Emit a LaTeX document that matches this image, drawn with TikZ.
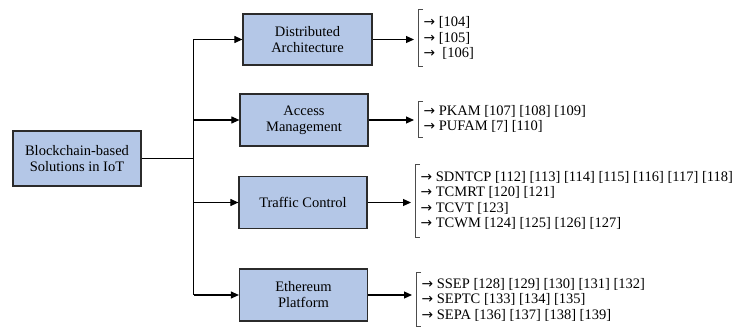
\documentclass[tikz,border=0pt]{standalone}
\usepackage{fontspec}
\setmainfont{Liberation Serif}
\newfontfamily\arrowfont[Scale=0.95]{DejaVu Sans}
\newcommand{\leafarrow}{{\arrowfont →}}
\usetikzlibrary{positioning, arrows.meta}
\definecolor{boxblue}{HTML}{B4C7E7}
\definecolor{boxline}{HTML}{2B2B2B}

\begin{document}
\begin{tikzpicture}[x=1pt, y=-1pt,
    box/.style={draw=boxline, line width=1.2pt, fill=boxblue, align=center,
        minimum width=128pt, minimum height=52pt, inner sep=2pt,
        font=\fontsize{14.5}{16}\selectfont},
    leaflist/.style={anchor=west, align=left, inner xsep=5.5pt, inner ysep=4pt,
        font=\fontsize{14.5}{15.5}\selectfont},
    link/.style={line width=1.1pt, -{Triangle[length=8pt,width=7pt]}},
    bracket/.style={draw=black!70, line width=0.8pt}]
    \useasboundingbox (0,0) rectangle (745,329);

    \node[box, minimum height=55pt] (root) at (77,158.5) {Blockchain-based\\Solutions in IoT};

    \node[box, minimum width=129pt, minimum height=51pt] (dist) at (307.5,39.5) {Distributed\\Architecture};
    \node[box] (acc) at (304,120) {Access\\Management};
    \node[box] (traf) at (303,202.5) {Traffic Control};
    \node[box] (eth) at (303.5,295) {Ethereum\\Platform};

    \node[leaflist, inner ysep=6.5pt] (l1) at (418,38) {\leafarrow{} [104]\\\leafarrow{} [105]\\\leafarrow\ \ [106]};
    \node[leaflist] (l2) at (418,119) {\leafarrow{} PKAM [107] [108] [109]\\\leafarrow{} PUFAM [7] [110]};
    \node[leaflist, inner ysep=7pt] (l3) at (415,200.5) {\leafarrow{} SDNTCP [112] [113] [114] [115] [116] [117] [118]\\\leafarrow{} TCMRT [120] [121]\\\leafarrow{} TCVT [123]\\\leafarrow{} TCWM [124] [125] [126] [127]};
    \node[leaflist, inner ysep=5pt] (l4) at (416,299.5) {\leafarrow{} SSEP [128] [129] [130] [131] [132]\\\leafarrow{} SEPTC [133] [134] [135]\\\leafarrow{} SEPA [136] [137] [138] [139]};

    \foreach \l in {l1,l2,l3,l4}
        \draw[bracket] ([xshift=5pt]\l.north west) -- (\l.north west) -- (\l.south west) -- ([xshift=5pt]\l.south west);

    \draw[line width=1.1pt] (root.east) -- ++(52,0) coordinate (hub);
    \draw[line width=1.1pt] (hub |- dist.west) -- (hub |- eth.west);
    \foreach \b in {dist,acc,traf,eth}
        \draw[link] (hub |- \b.west) -- (\b.west);
    \foreach \b/\l in {dist/l1,acc/l2,traf/l3,eth/l4}
        \draw[link, shorten >=4pt] (\b.east) -- (\b.east -| \l.west);
\end{tikzpicture}
\end{document}
